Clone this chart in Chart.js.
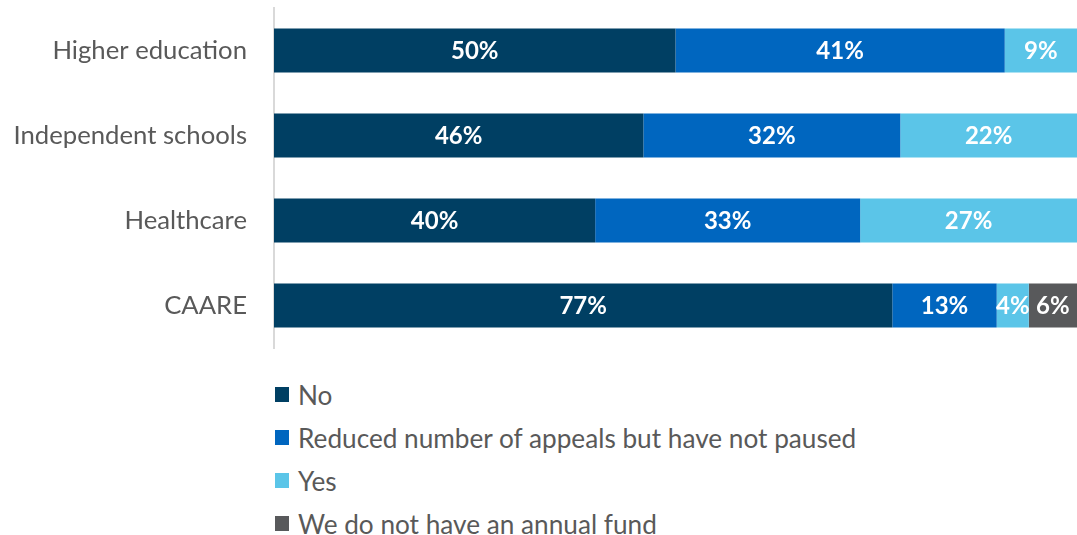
<!DOCTYPE html>
<html>
<head>
<meta charset="utf-8">
<script src="https://cdn.jsdelivr.net/npm/chart.js@4"></script>
<style>
  html, body { margin: 0; padding: 0; background: #fff; overflow: hidden; }
  #wrap { position: relative; width: 1077px; height: 535px; }
  #graficoApelos { position: absolute; left: 0; top: 0; }
  #legenda { position: absolute; left: 275px; top: 373px; font-family: Lato, sans-serif; font-size: 26.2px; color: #595959; }
  .item { display: flex; align-items: center; height: 43px; }
  .item span.box { width: 14px; height: 15px; margin-right: 9px; display: inline-block; }
</style>
</head>
<body>
<div id="wrap">
  <canvas id="graficoApelos" width="1077" height="355"></canvas>
  <div id="legenda"></div>
</div>
<script>
const categorias = ['Higher education', 'Independent schools', 'Healthcare', 'CAARE'];
const nomesSeries = ['No', 'Reduced number of appeals but have not paused', 'Yes', 'We do not have an annual fund'];
const valoresNo = [50, 46, 40, 77];
const valoresReduced = [41, 32, 33, 13];
const valoresYes = [9, 22, 27, 4];
const valoresSemFundo = [0, 0, 0, 6];
const cores = ['#003f63', '#0066bf', '#5bc5e8', '#58595b'];

const series = [valoresNo, valoresReduced, valoresYes, valoresSemFundo];

// rótulos de % no meio de cada segmento
const rotulosBarras = {
    id: 'rotulosBarras',
    afterDatasetsDraw(chart) {
        const ctx = chart.ctx;
        ctx.save();
        ctx.font = 'bold 24px Lato, sans-serif';
        ctx.fillStyle = '#ffffff';
        ctx.textAlign = 'center';
        ctx.textBaseline = 'middle';
        chart.data.datasets.forEach((ds, i) => {
            chart.getDatasetMeta(i).data.forEach((bar, j) => {
                const v = ds.data[j];
                if (!v) return;
                const meio = (bar.x + bar.base) / 2;
                ctx.fillText(v + '%', meio, bar.y + 1);
            });
        });
        ctx.restore();
    }
};

const ctx = document.getElementById('graficoApelos').getContext('2d');
const graficoApelos = new Chart(ctx, {
    type: 'bar',
    data: {
        labels: categorias,
        datasets: series.map((dados, i) => ({
            label: nomesSeries[i],
            data: dados,
            backgroundColor: cores[i],
            borderWidth: 0,
            barPercentage: 0.52,
            categoryPercentage: 1
        }))
    },
    options: {
        indexAxis: 'y',
        responsive: false,
        animation: false,
        layout: { padding: { top: 8, bottom: 7, right: 0 } },
        plugins: {
            legend: { display: false },
            tooltip: { enabled: false }
        },
        scales: {
            x: {
                stacked: true,
                min: 0,
                max: 100,
                display: false
            },
            y: {
                stacked: true,
                grid: { display: false, drawTicks: false },
                border: { display: true, color: '#d9d9d9', width: 2 },
                ticks: {
                    color: '#595959',
                    padding: 27,
                    font: { family: 'Lato, sans-serif', size: 25.7 }
                },
                afterFit: function (scale) {
                    scale.width = 274; // alinha o eixo
                    scale.paddingTop = 0; // o padding dos ticks não deve encolher a área
                    scale.paddingBottom = 0;
                }
            }
        }
    },
    plugins: [rotulosBarras]
});

// legenda em lista vertical
const legenda = document.getElementById('legenda');
nomesSeries.forEach((nome, i) => {
    const item = document.createElement('div');
    item.className = 'item';
    const box = document.createElement('span');
    box.className = 'box';
    box.style.background = cores[i];
    const txt = document.createElement('span');
    txt.textContent = nome;
    item.appendChild(box);
    item.appendChild(txt);
    legenda.appendChild(item);
});
</script>
</body>
</html>
